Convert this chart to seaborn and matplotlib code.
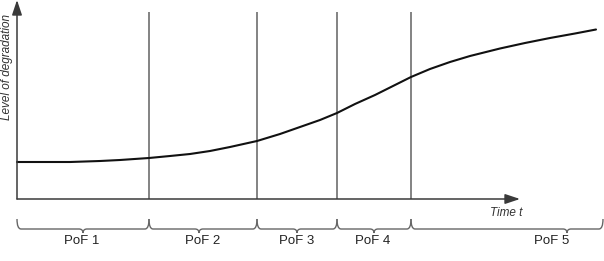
import matplotlib
matplotlib.use("Agg")
import matplotlib.pyplot as plt
from matplotlib.path import Path
from matplotlib.patches import PathPatch
import seaborn as sns
import pandas as pd

# ---- data ----
time_t = [17, 40, 70, 100, 120, 149, 170, 190, 210, 230, 257, 280, 300, 320, 337,
          355, 375, 395, 411, 430, 450, 470, 500, 525, 550, 575, 596]
degradation = [99, 99, 99, 100, 101, 103, 105, 107, 110, 114, 120, 127, 134, 141, 148,
               157, 166, 176, 184, 192, 199, 205, 212.5, 218, 223, 227.5, 231.5]
boundaries = [149, 257, 337, 411]
phase_labels = ["PoF 1", "PoF 2", "PoF 3", "PoF 4", "PoF 5"]
phase_starts = [17, 149, 257, 337, 411]
phase_ends = [149, 257, 337, 411, 603]
phase_tips = [83, 199, 297, 374, 567]
phase_label_x = [82, 203, 297, 373, 552]

sns.set_style("white")
plt.rcParams['font.family'] = ['Liberation Sans', 'DejaVu Sans']

fig = plt.figure(figsize=(6.04, 2.61), dpi=100)
ax = fig.add_axes([0, 0, 1, 1])
ax.set_xlim(0, 604)
ax.set_ylim(0, 261)
ax.axis("off")

H = 261
def Y(p):
    return H - p

# separators
ax.vlines(boundaries, Y(199), Y(12), colors="#7a7a7a", linewidth=1.3)

# curve
df = pd.DataFrame({"t": time_t, "level": degradation})
sns.lineplot(data=df, x="t", y="level", ax=ax, color="#111111", linewidth=1.5)

# axes arrows
ax.annotate("", xy=(520, Y(199)), xytext=(17, Y(199)),
            arrowprops=dict(arrowstyle="-|>,head_length=0.9,head_width=0.3",
                            color="#3a3a3a", lw=1.1, shrinkA=0, shrinkB=0))
ax.annotate("", xy=(17, Y(0)), xytext=(17, Y(199)),
            arrowprops=dict(arrowstyle="-|>,head_length=0.9,head_width=0.3",
                            color="#3a3a3a", lw=1.1, shrinkA=0, shrinkB=0))

ax.text(506, Y(213), "Time t", fontsize=8.5, style="italic", color="#333333",
        ha="center", va="center")
ax.text(7, Y(67), "Level of degradation", fontsize=8.5, style="italic",
        color="#333333", ha="center", va="center", rotation=90)

# braces
def brace(a, b, t):
    top, mid, tip = Y(219), Y(229), Y(233)
    verts = [(a, top), (a, mid), (a + 4, mid),
             (t - 4, mid), (t, mid), (t, tip),
             (t, mid), (t + 4, mid),
             (b - 4, mid), (b, mid), (b, top)]
    codes = [Path.MOVETO, Path.CURVE3, Path.CURVE3,
             Path.LINETO, Path.CURVE3, Path.CURVE3,
             Path.CURVE3, Path.CURVE3,
             Path.LINETO, Path.CURVE3, Path.CURVE3]
    ax.add_patch(PathPatch(Path(verts, codes), fill=False,
                           edgecolor="#666666", lw=1.0))

for a, b, t, lx, lab in zip(phase_starts, phase_ends, phase_tips, phase_label_x, phase_labels):
    brace(a, b, t)
    ax.text(lx, Y(241), lab, fontsize=9.5, color="#222222", ha="center", va="center")

fig.savefig("out.png", dpi=100)
